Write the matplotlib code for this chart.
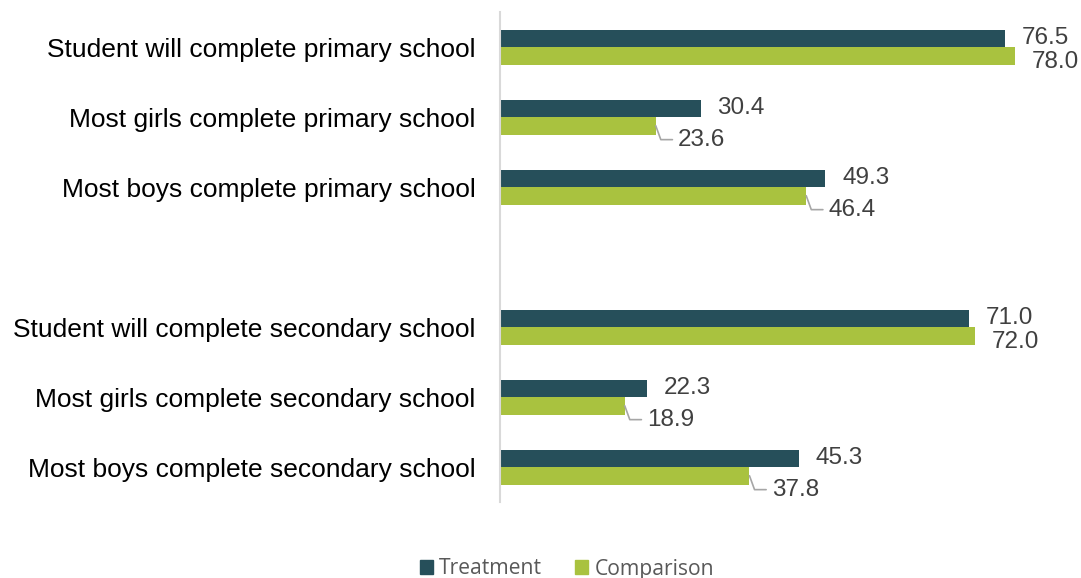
import matplotlib
matplotlib.use("Agg")
import matplotlib.pyplot as plt
from matplotlib.patches import Patch

categories = [
    "Student will complete primary school",
    "Most girls complete primary school",
    "Most boys complete primary school",
    "Student will complete secondary school",
    "Most girls complete secondary school",
    "Most boys complete secondary school",
]
treatment = [76.5, 30.4, 49.3, 71.0, 22.3, 45.3]
comparison = [78.0, 23.6, 46.4, 72.0, 18.9, 37.8]
slots = [0, 1, 2, 4, 5, 6]

C_T = "#264F5A"
C_C = "#A9C23F"
TXT = "#404040"

plt.rcParams['font.family'] = ['Liberation Sans', 'DejaVu Sans']
fig = plt.figure(figsize=(10.81, 5.78), dpi=100)
ax = fig.add_axes([500/1081, 1-502/578, 581/1081, 490/578])

h = 0.25
yt = [s - h/2 for s in slots]
yc = [s + h/2 for s in slots]
ax.barh(yt, treatment, height=h, color=C_T)
ax.barh(yc, comparison, height=h, color=C_C)

ax.set_xlim(0, 581/6.6)
ax.set_ylim(6.5, -0.5)
ax.set_xticks([])
ax.set_yticks(slots)
ax.set_yticklabels(categories, fontsize=19, color="black")
ax.tick_params(axis='y', length=0, pad=17.5)
for s in ['top', 'right', 'bottom']:
    ax.spines[s].set_visible(False)
ax.spines['left'].set_color("#D9D9D9")
ax.spines['left'].set_linewidth(1.5)

for y, v in zip(yt, treatment):
    ax.annotate(f"{v:.1f}", xy=(v, y), xytext=(12, 0), textcoords='offset points',
                va='center', ha='left', fontsize=17.5, color=TXT)

for y, v, t in zip(yc, comparison, treatment):
    if v > t:
        ax.annotate(f"{v:.1f}", xy=(v, y), xytext=(12, -4.5), textcoords='offset points',
                    va='center', ha='left', fontsize=17.5, color=TXT)
    else:
        ax.annotate(f"{v:.1f}", xy=(v, y), xytext=(16, -10), textcoords='offset points',
                    va='center', ha='left', fontsize=17.5, color=TXT,
                    arrowprops=dict(arrowstyle='-', color="#A6A6A6", lw=1.2,
                                    shrinkA=2, shrinkB=0,
                                    connectionstyle='angle,angleA=0,angleB=-70,rad=0',
                                    relpos=(0, 0.5)))

handles = [Patch(color=C_T, label="Treatment"), Patch(color=C_C, label="Comparison")]
fig.legend(handles=handles, loc='center', bbox_to_anchor=(567/1081, 1-569/578), ncol=2,
           frameon=False, prop={'family': 'Open Sans', 'size': 15.2}, labelcolor="#595959",
           handlelength=0.62, handleheight=0.62, handletextpad=0.3, columnspacing=1.55,
           borderpad=0.1)

fig.savefig("out.png", dpi=100)
